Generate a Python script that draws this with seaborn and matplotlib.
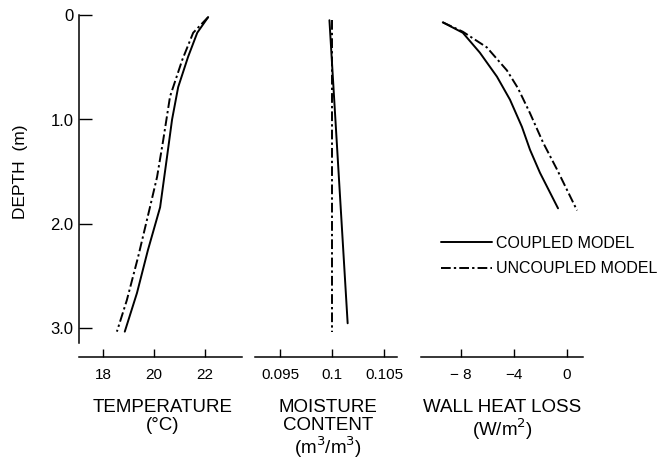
import matplotlib
matplotlib.use("Agg")
import matplotlib.pyplot as plt
import seaborn as sns
import pandas as pd
from matplotlib.lines import Line2D

# ---- data ----
temp_coupled_T = [22.13, 21.70, 21.34, 20.95, 20.71, 20.51, 20.24, 19.76, 19.33, 18.85]
temp_coupled_d = [0.02, 0.17, 0.40, 0.69, 1.00, 1.36, 1.84, 2.25, 2.66, 3.03]
temp_uncoupled_T = [22.13, 21.54, 21.11, 20.63, 20.36, 20.12, 19.84, 19.37, 18.93, 18.54]
temp_uncoupled_d = [0.02, 0.17, 0.43, 0.78, 1.20, 1.55, 1.84, 2.32, 2.73, 3.03]

moist_coupled_m = [0.09975, 0.10150]
moist_coupled_d = [0.05, 2.95]
moist_uncoupled_m = [0.09995, 0.09995]
moist_uncoupled_d = [0.05, 3.03]

heat_coupled_W = [-9.36, -7.85, -6.57, -5.28, -4.30, -3.40, -2.79, -2.04, -0.68]
heat_coupled_d = [0.07, 0.17, 0.36, 0.59, 0.81, 1.07, 1.29, 1.51, 1.85]
heat_uncoupled_W = [-9.36, -7.85, -6.04, -4.53, -3.70, -2.79, -1.81, -0.75, 0.75]
heat_uncoupled_d = [0.07, 0.16, 0.31, 0.53, 0.70, 0.94, 1.22, 1.48, 1.87]

depth_ticks = [0, 1.0, 2.0, 3.0]
depth_ticklabels = ["0", "1.0", "2.0", "3.0"]
temp_ticks = [18, 20, 22]
moist_ticks = [0.095, 0.1, 0.105]
moist_ticklabels = ["0.095", "0.1", "0.105"]
heat_ticks = [-8, -4, 0]
heat_ticklabels = ["\u2212 8", "\u22124", "0"]
series_names = ["COUPLED MODEL", "UNCOUPLED MODEL"]

# ---- style ----
sns.set_style("ticks")
plt.rcParams["font.family"] = ["Liberation Sans", "DejaVu Sans"]
plt.rcParams["axes.linewidth"] = 1.1
plt.rcParams["text.color"] = "black"
plt.rcParams["xtick.color"] = "black"
plt.rcParams["ytick.color"] = "black"
plt.rcParams["axes.edgecolor"] = "black"

W, H = 662, 459
fig = plt.figure(figsize=(W / 100, H / 100), dpi=100)

def px_axes(x0, x1, ytop, ybot):
    return fig.add_axes([x0 / W, (H - ybot) / H, (x1 - x0) / W, (ybot - ytop) / H])

YTOP, YBOT = 15, 357
depth_max = (YBOT - YTOP) / 104.5

ax1 = px_axes(79, 242, YTOP, YBOT)
ax2 = px_axes(255, 397, YTOP, YBOT)
ax3 = px_axes(421, 583, YTOP, YBOT)

DASH = (5, 1.6, 1.2, 1.6)
LW = 1.4

def draw(ax, xs_c, ds_c, xs_u, ds_u):
    dfc = pd.DataFrame({"x": xs_c, "depth": ds_c})
    dfu = pd.DataFrame({"x": xs_u, "depth": ds_u})
    sns.lineplot(data=dfc, x="x", y="depth", ax=ax, sort=False, estimator=None,
                 orient="y", color="black", lw=LW)
    sns.lineplot(data=dfu, x="x", y="depth", ax=ax, sort=False, estimator=None,
                 orient="y", color="black", lw=LW)
    ax.lines[-1].set_dashes(DASH)
    ax.set_xlabel("")
    ax.set_ylabel("")
    ax.set_ylim(depth_max, 0)

draw(ax1, temp_coupled_T, temp_coupled_d, temp_uncoupled_T, temp_uncoupled_d)
draw(ax2, moist_coupled_m, moist_coupled_d, moist_uncoupled_m, moist_uncoupled_d)
draw(ax3, heat_coupled_W, heat_coupled_d, heat_uncoupled_W, heat_uncoupled_d)

ax1.set_xlim(17.05, 23.46)
ax2.set_xlim(0.0926, 0.10624)
ax3.set_xlim(-11.0, 1.2)

for ax in (ax1, ax2, ax3):
    for s in ("top", "right"):
        ax.spines[s].set_visible(False)
    ax.tick_params(axis="x", bottom=True, direction="in", length=6, width=1.0,
                   labelsize=11, pad=8, colors="black")

ax1.spines["left"].set_bounds(3.14, 0)
ax1.set_yticks(depth_ticks)
ax1.set_yticklabels(depth_ticklabels)
ax1.tick_params(axis="y", left=True, direction="in", length=9, width=1.0,
                labelsize=12, pad=4, colors="black")

for ax in (ax2, ax3):
    ax.spines["left"].set_visible(False)
    ax.set_yticks([])

ax1.set_xticks(temp_ticks)
ax1.set_xticklabels([str(t) for t in temp_ticks])
ax2.set_xticks(moist_ticks)
ax2.set_xticklabels(moist_ticklabels)
ax3.set_xticks(heat_ticks)
ax3.set_xticklabels(heat_ticklabels)

# axis titles
def ftext(x, y, s, size=13.5):
    fig.text(x / W, 1 - y / H, s, ha="center", va="top", fontsize=size,
             linespacing=1.05, color="black")

ftext(163, 399, "TEMPERATURE\n(\u00b0C)")
ftext(328, 399, "MOISTURE\nCONTENT\n(m$^{3}$/m$^{3}$)")
ftext(502, 399, "WALL HEAT LOSS\n(W/m$^{2}$)")
fig.text(21 / W, 1 - 172 / H, "DEPTH  (m)", rotation=90, ha="center", va="center",
         fontsize=12.5, color="black")

# legend
handles = [Line2D([], [], color="black", lw=LW),
           Line2D([], [], color="black", lw=LW, dashes=DASH)]
fig.legend(handles, series_names, loc="upper left",
           bbox_to_anchor=(441 / W, 1 - 236 / H), frameon=False,
           fontsize=11.5, handlelength=3.2, handletextpad=0.25,
           labelspacing=0.65, borderpad=0, borderaxespad=0)

fig.savefig("out.png", dpi=100)
